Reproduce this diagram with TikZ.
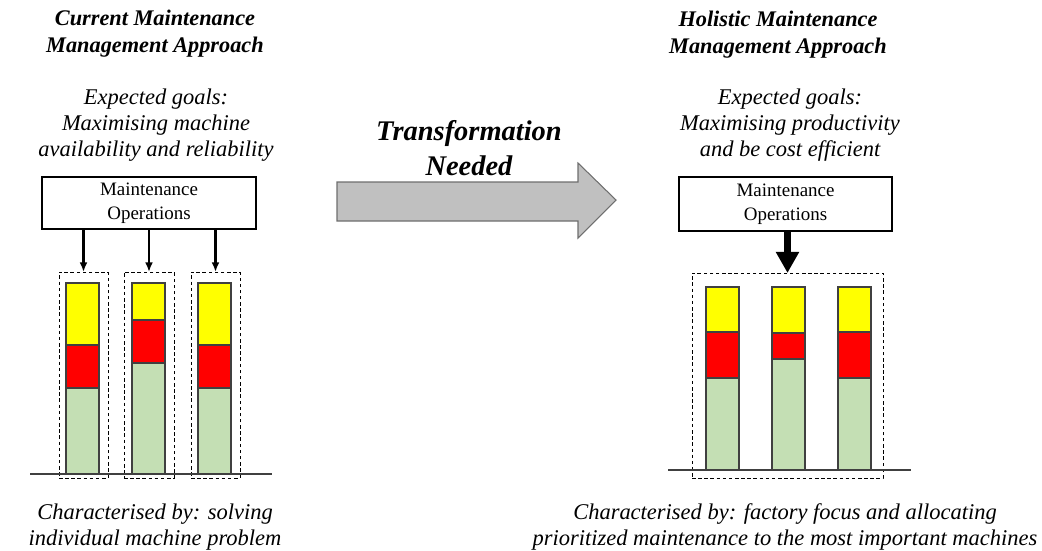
\documentclass[tikz,border=0pt]{standalone}
\usepackage{fontspec}
\setmainfont{Liberation Serif}
\usetikzlibrary{arrows.meta}
\definecolor{barYellow}{RGB}{255,255,0}
\definecolor{barRed}{RGB}{255,0,0}
\definecolor{barGreen}{RGB}{196,223,180}
\definecolor{barEdge}{RGB}{64,64,64}
\definecolor{arrowFill}{RGB}{192,192,192}
\definecolor{arrowEdge}{RGB}{110,110,110}
\def\px{0.02cm} % one pixel of the reference
\newcommand\DrawMachineBar[5]{% left x, top, yellow/red, red/green, bottom
  \filldraw[barline,fill=barYellow] (#1,#2) rectangle (#1+33,#3);
  \filldraw[barline,fill=barRed] (#1,#3) rectangle (#1+33,#4);
  \filldraw[barline,fill=barGreen] (#1,#4) rectangle (#1+33,#5);
}
\tikzset{%
  >=Latex, % option for nice arrows
  barline/.style={draw=barEdge,line width=0.7pt},
  groundline/.style={draw=barEdge,line width=0.6pt},
  opsbox/.style={draw,line width=0.6pt,inner sep=0pt,outer sep=0pt,align=center,
    font=\fontsize{10.8}{13.6}\selectfont},
  groupbox/.style={draw,dashed,dash pattern=on 2pt off 1.5pt,line width=0.5pt,
    inner sep=0pt,outer sep=0pt},
  headtext/.style={align=center,inner sep=0pt,
    font=\fontsize{12.7}{15.3}\selectfont\bfseries\itshape},
  goaltext/.style={align=center,inner sep=0pt,
    font=\fontsize{12.8}{15}\selectfont\itshape},
  feed/.style={->,line width=1.3pt,>={Latex[length=5.5pt,width=4.5pt]}},
  bigfeed/.style={line width=4.5pt,-{Triangle[length=12pt 0 0,width=12.5pt 0 0]}}
}

\begin{document}
\begin{tikzpicture}[x=\px,y=-\px]
\useasboundingbox (0,0) rectangle (1042,551);

%% current approach (left)

\node[headtext] (titleL) at (155,34) {Current Maintenance\\Management Approach};
\node[goaltext] (goalsL) at (156,125) {Expected goals:\\Maximising machine\\
  availability and reliability};
\node[opsbox,minimum width={214*\px},minimum height={52*\px}] (opsL) at (149,203)
  {Maintenance\\Operations};

\node[groupbox,minimum width={49*\px},minimum height={206*\px}] (grpA) at (83.5,375) {};
\node[groupbox,minimum width={50*\px},minimum height={206*\px}] (grpB) at (149,375) {};
\node[groupbox,minimum width={49*\px},minimum height={206*\px}] (grpC) at (215.5,375) {};

\DrawMachineBar{66}{283}{345}{388}{474}
\DrawMachineBar{132}{283}{320}{363}{474}
\DrawMachineBar{198}{283}{345}{388}{474}
\draw[groundline] (30,474) -- (272,474);

\draw[feed] (opsL.south -| grpA.north) -- (grpA.north);
\draw[feed] (opsL.south -| grpB.north) -- (grpB.north);
\draw[feed] (opsL.south -| grpC.north) -- (grpC.north);

\node[goaltext] (noteL) at (155,527) {Characterised by: solving\\
  individual machine problem};

%% transformation arrow

\filldraw[fill=arrowFill,draw=arrowEdge,line width=0.6pt]
  (337,182) -- (578,182) -- (578,163) -- (616,200) -- (578,238) -- (578,221)
  -- (337,221) -- cycle;
\node[headtext,font=\fontsize{16.2}{19.8}\selectfont\bfseries\itshape]
  (trans) at (469,148) {Transformation\\Needed};

%% holistic approach (right)

\node[headtext] (titleR) at (778,35) {Holistic Maintenance\\Management Approach};
\node[goaltext] (goalsR) at (790,125) {Expected goals:\\Maximising productivity\\
  and be cost efficient};
\node[opsbox,minimum width={213*\px},minimum height={54*\px}] (opsR) at (785.5,204)
  {Maintenance\\Operations};

\node[groupbox,minimum width={191*\px},minimum height={205*\px}] (grpR) at (787.5,375.5) {};

\DrawMachineBar{706}{287}{332}{378}{470}
\DrawMachineBar{772}{287}{333}{359}{470}
\DrawMachineBar{838}{287}{332}{378}{470}
\draw[groundline] (668,470) -- (911,470);

\draw[bigfeed] (opsR.south -| grpR.north) -- (grpR.north);

\node[goaltext] (noteR) at (785,527) {Characterised by: factory focus and allocating\\
  prioritized maintenance to the most important machines};
\end{tikzpicture}
\end{document}
